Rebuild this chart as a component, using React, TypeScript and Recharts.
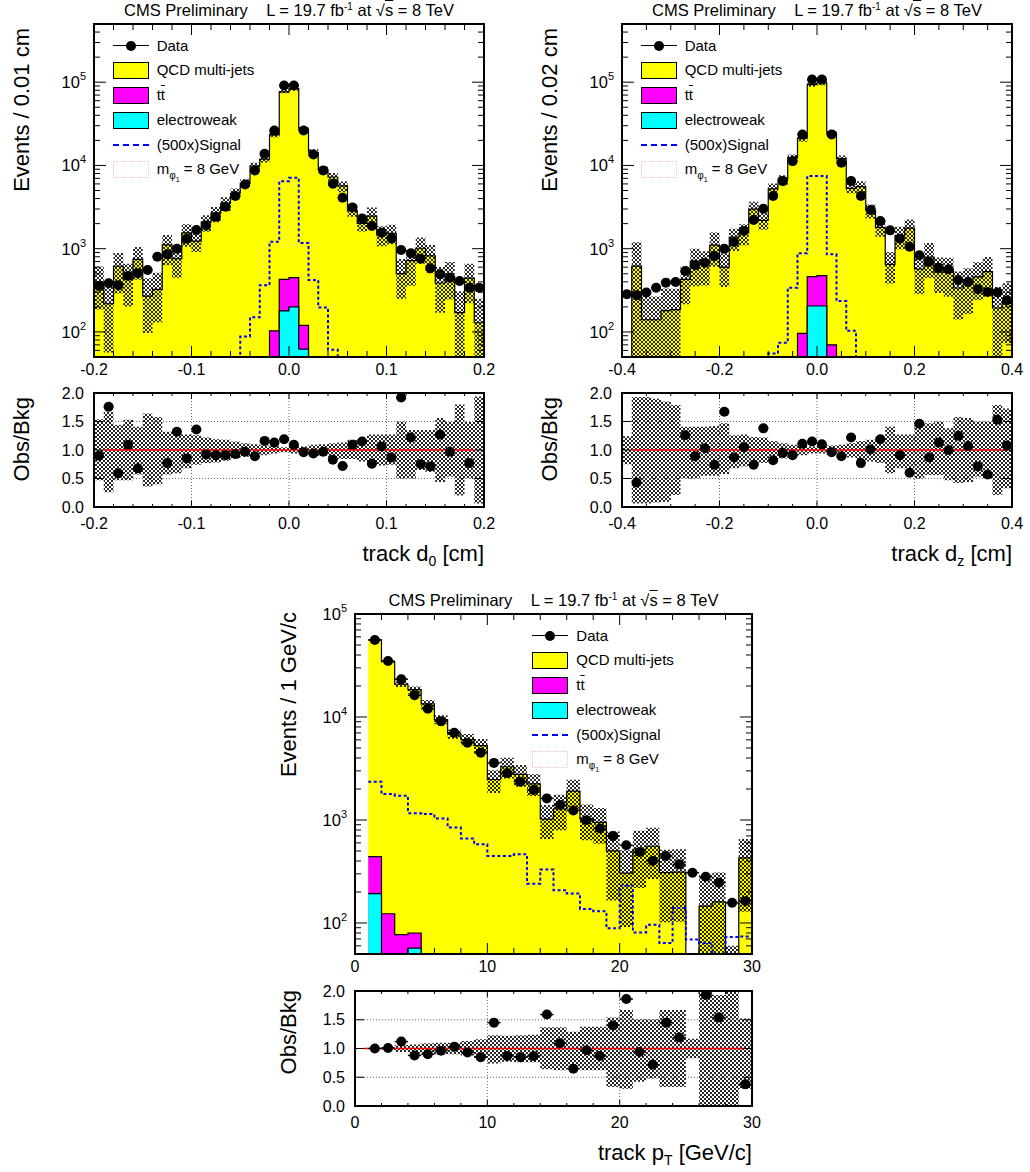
import React from "react"
import { ComposedChart, Area, Line, Scatter, XAxis, YAxis, ReferenceLine, ReferenceArea, ErrorBar } from "recharts"

const FONT = '"Liberation Sans", Arial, Helvetica, sans-serif'
const Y_MIN = 50

// ---------- track d0 [cm], 40 bins of 0.01 cm ----------
const d0Edges = [
  -0.2, -0.19, -0.18, -0.17, -0.16, -0.15, -0.14, -0.13, -0.12, -0.11, -0.1, -0.09, -0.08, -0.07, -0.06, -0.05, -0.04,
  -0.03, -0.02, -0.01, 0, 0.01, 0.02, 0.03, 0.04, 0.05, 0.06, 0.07, 0.08, 0.09, 0.1, 0.11, 0.12, 0.13, 0.14, 0.15, 0.16,
  0.17, 0.18, 0.19, 0.2,
]
const d0Data = [
  356, 384, 363, 470, 506, 555, 802, 855, 1000, 1318, 1675, 1905, 2421, 3192, 4285, 5916, 8710, 13800, 26300, 91200,
  91200, 26300, 13550, 8710, 6030, 4090, 3133, 2312, 1871, 1556, 1330, 964, 879, 759, 581, 492, 449, 409, 340, 340,
]
const d0Total = [
  396, 218, 615, 431, 744, 270, 325, 1110, 758, 1550, 1231, 2070, 2660, 3508, 4608, 6099, 9787, 11900, 23270, 76600,
  83700, 27400, 14400, 8980, 7265, 5680, 2874, 2010, 2462, 1468, 1529, 502, 720, 1012, 818, 387, 463, 171, 442, 129,
]
const d0Ttbar = [
  0, 0, 0, 0, 0, 0, 0, 0, 0, 0, 0, 0, 0, 0, 0, 0, 0, 0, 83, 249, 249, 58, 0, 0, 0, 0, 0, 0, 0, 0, 0, 0, 0, 0, 0, 0, 0,
  0, 0, 0,
]
const d0Ewk = [
  0, 0, 0, 0, 0, 0, 0, 0, 0, 0, 0, 0, 0, 0, 0, 0, 0, 0, 20, 179, 200, 62, 0, 0, 0, 0, 0, 0, 0, 0, 0, 0, 0, 0, 0, 0, 0,
  0, 0, 0,
]
const d0Signal = [
  0, 0, 0, 0, 0, 0, 0, 0, 0, 0, 0, 0, 0, 0, 0, 88, 150, 365, 1210, 6480, 7110, 1170, 420, 196, 61, 0, 0, 0, 0, 0, 0, 0,
  0, 0, 0, 0, 0, 0, 0, 0,
]
const d0Ratio = [
  0.9, 1.76, 0.59, 1.09, 0.68, null, null, 0.77, 1.32, 0.85, 1.36, 0.92, 0.91, 0.91, 0.93, 0.97, 0.89, 1.16, 1.13, 1.19,
  1.09, 0.96, 0.94, 0.97, 0.83, 0.72, 1.09, 1.15, 0.76, 1.06, 0.87, 1.92, 1.22, 0.75, 0.71, 1.27, 0.97, null, 0.77, null,
]
const d0BandLo = [
  0.47, 0.26, 0.47, 0.47, 0.57, 0.36, 0.4, 0.57, 0.59, 0.68, 0.74, 0.77, 0.78, 0.81, 0.85, 0.88, 0.91, 0.91, 0.94, 0.96,
  0.94, 0.92, 0.9, 0.9, 0.87, 0.84, 0.84, 0.8, 0.78, 0.73, 0.74, 0.5, 0.5, 0.65, 0.62, 0.44, 0.53, 0.2, 0.5, 0.06,
]
const d0BandHi = [
  1.54, 1.67, 1.44, 1.53, 1.41, 1.64, 1.58, 1.32, 1.32, 1.27, 1.26, 1.22, 1.19, 1.18, 1.15, 1.12, 1.1, 1.08, 1.06, 1.05,
  1.06, 1.06, 1.09, 1.1, 1.12, 1.13, 1.18, 1.18, 1.27, 1.27, 1.27, 1.5, 1.35, 1.35, 1.35, 1.56, 1.49, 1.8, 1.49, 1.94,
]
const d0XMajor = [-0.2, -0.1, 0, 0.1, 0.2]

// ---------- track dz [cm], 40 bins of 0.02 cm ----------
const dzEdges = [
  -0.4, -0.38, -0.36, -0.34, -0.32, -0.3, -0.28, -0.26, -0.24, -0.22, -0.2, -0.18, -0.16, -0.14, -0.12, -0.1, -0.08,
  -0.06, -0.04, -0.02, 0, 0.02, 0.04, 0.06, 0.08, 0.1, 0.12, 0.14, 0.16, 0.18, 0.2, 0.22, 0.24, 0.26, 0.28, 0.3, 0.32,
  0.34, 0.36, 0.38, 0.4,
]
const dzData = [
  283, 275, 297, 340, 391, 398, 540, 631, 679, 817, 1000, 1202, 1629, 2208, 3020, 4285, 6486, 11270, 23550, 107600,
  107600, 23550, 10770, 6486, 4285, 2911, 2148, 1660, 1318, 1057, 832, 692, 592, 565, 421, 398, 325, 302, 297, 240,
]
const dzTotal = [
  0, 619, 140, 140, 180, 185, 429, 709, 659, 1104, 599, 1382, 1551, 2984, 2188, 5226, 6827, 12385, 21216, 93565, 97818,
  24531, 12101, 5316, 5565, 2882, 1805, 649, 1448, 1762, 570, 795, 524, 565, 337, 372, 458, 530, 194, 222,
]
const dzTtbar = [
  0, 0, 0, 0, 0, 0, 0, 0, 0, 0, 0, 0, 0, 0, 0, 0, 0, 0, 96, 256, 269, 70, 0, 0, 0, 0, 0, 0, 0, 0, 0, 0, 0, 0, 0, 0, 0,
  0, 0, 0,
]
const dzEwk = [
  0, 0, 0, 0, 0, 0, 0, 0, 0, 0, 0, 0, 0, 0, 0, 0, 0, 0, 0, 205, 205, 0, 0, 0, 0, 0, 0, 0, 0, 0, 0, 0, 0, 0, 0, 0, 0, 0,
  0, 0,
]
const dzSignal = [
  0, 0, 0, 0, 0, 0, 0, 0, 0, 0, 0, 0, 0, 0, 0, 55, 74, 340, 880, 7450, 7450, 855, 235, 103, 0, 0, 0, 0, 0, 0, 0, 0, 0,
  0, 0, 0, 0, 0, 0, 0,
]
const dzRatio = [
  null, 0.43, null, null, null, null, 1.26, 0.89, 1.03, 0.74, 1.67, 0.87, 1.05, 0.74, 1.38, 0.82, 0.95, 0.91, 1.11, 1.15,
  1.1, 0.96, 0.89, 1.22, 0.77, 1.01, 1.19, null, 0.91, 0.6, 1.46, 0.87, 1.13, 1.0, 1.25, 1.07, 0.71, 0.57, 1.53, 1.08,
]
const dzBandLo = [
  0.75, 0.06, 0.06, 0.08, 0.09, 0.21, 0.5, 0.5, 0.55, 0.55, 0.58, 0.68, 0.71, 0.74, 0.77, 0.82, 0.85, 0.9, 0.91, 0.94,
  0.94, 0.91, 0.9, 0.87, 0.82, 0.8, 0.77, 0.59, 0.68, 0.65, 0.5, 0.56, 0.56, 0.47, 0.42, 0.44, 0.53, 0.5, 0.21, 0.33,
]
const dzBandHi = [
  1.24, 1.93, 1.93, 1.9, 1.85, 1.79, 1.41, 1.41, 1.41, 1.42, 1.47, 1.26, 1.27, 1.23, 1.22, 1.16, 1.12, 1.09, 1.08, 1.06,
  1.06, 1.08, 1.09, 1.12, 1.16, 1.18, 1.23, 1.41, 1.27, 1.27, 1.47, 1.47, 1.5, 1.38, 1.58, 1.56, 1.5, 1.5, 1.79, 1.73,
]
const dzXMajor = [-0.4, -0.2, 0, 0.2, 0.4]

// ---------- track pT [GeV/c], 29 bins of 1 GeV/c ----------
const ptEdges = [1, 2, 3, 4, 5, 6, 7, 8, 9, 10, 11, 12, 13, 14, 15, 16, 17, 18, 19, 20, 21, 22, 23, 24, 25, 26, 27, 28, 29, 30]
const ptData = [
  55980, 34910, 23290, 16250, 12050, 9070, 7040, 5620, 4490, 3585, 2862, 2357, 1954, 1621, 1396, 1238, 996, 826, 701,
  568, 489, 400, 447, 371, 308, 281, 246, 157, 163,
]
const ptTotal = [
  55980, 34560, 20800, 18470, 13390, 9450, 6835, 6043, 5282, 2472, 3290, 2773, 2246, 1019, 1281, 1905, 1027, 949, 501,
  305, 520, 556, 308, 312, 0, 146, 160, 30, 429,
]
const ptTtbar = [248, 123, 77, 23, 0, 0, 0, 0, 0, 0, 0, 0, 0, 0, 0, 0, 0, 0, 0, 0, 0, 0, 0, 0, 0, 0, 0, 0, 0]
const ptEwk = [193, 0, 0, 57, 0, 0, 0, 0, 0, 0, 0, 0, 0, 0, 0, 0, 0, 0, 0, 0, 0, 0, 0, 0, 0, 0, 0, 0, 0]
const ptSignal = [
  2355, 1786, 1722, 1166, 1141, 1035, 846, 661, 581, 447, 447, 464, 240, 331, 208, 193, 137, 130, 89, 231, 81, 96, 64,
  140, 69, 64, 30, 73, 74,
]
const ptRatio = [
  1.0, 1.01, 1.12, 0.88, 0.9, 0.96, 1.03, 0.93, 0.85, 1.45, 0.87, 0.85, 0.87, 1.59, 1.09, 0.65, 0.97, 0.87, 1.4, 1.86,
  0.94, 0.72, 1.45, 1.19, null, 1.93, 1.54, null, 0.38,
]
const ptBandLo = [
  0.99, 0.98, 0.94, 0.91, 0.91, 0.9, 0.9, 0.88, 0.85, 0.74, 0.77, 0.76, 0.76, 0.64, 0.62, 0.68, 0.62, 0.62, 0.33, 0.3,
  0.42, 0.48, 0.33, 0.33, 0.83, 0.01, 0.01, 0.01, 0.3,
]
const ptBandHi = [
  1.01, 1.02, 1.06, 1.07, 1.09, 1.1, 1.1, 1.13, 1.16, 1.23, 1.22, 1.23, 1.24, 1.37, 1.37, 1.29, 1.38, 1.38, 1.54, 1.67,
  1.51, 1.51, 1.67, 1.67, 1.17, 2.0, 1.93, 2.0, 1.52,
]
const ptXMajor = [0, 10, 20, 30]

const ratioTicks = [0, 0.5, 1, 1.5, 2]
const ratioGrid = [0.5, 1, 1.5]

type Cfg = {
  id: string
  edges: number[]
  xDomain: [number, number]
  xMajor: number[]
  xMinorStep: number
  xFmt: (v: number) => string
  data: number[]
  total: number[]
  ttbar: number[]
  ewk: number[]
  signal: number[]
  ratio: (number | null)[]
  bandLo: number[]
  bandHi: number[]
  yMax: number
  unitLine: [number, number]
  left: number
  width: number
  mainTop: number
  mainH: number
  ratioTop: number
  ratioH: number
}

const steps = (a: number, b: number, s: number) => {
  const out: number[] = []
  for (let v = a; v <= b + s * 1e-6; v += s) out.push(Math.round(v / s) * s)
  return out
}
const logTicks = (lo: number, hi: number) => {
  const out: number[] = []
  for (let e = 1; e <= 6; e++) for (let k = 1; k <= 9; k++) {
    const v = k * Math.pow(10, e)
    if (v >= lo && v <= hi) out.push(v)
  }
  return out
}
const isIn = (v: number, arr: number[]) => arr.some((m) => Math.abs(m - v) < 1e-7)

// histogram as step rows: one row per bin edge, last edge repeats the last bin
function stepRows(edges: number[], cols: Record<string, any[]>) {
  return edges.map((x, i) => {
    const j = Math.min(i, edges.length - 2)
    const row: any = { x }
    for (const k in cols) row[k] = cols[k][j]
    return row
  })
}

function xTick(major: number[], span: number, lenMaj: number, lenMin: number, dy: number, fmt: (v: number) => string) {
  return (p: any) => {
    const v = p.payload.value
    const maj = isIn(v, major)
    const len = maj ? lenMaj : lenMin
    return (
      <g>
        <line x1={p.x} x2={p.x} y1={p.y} y2={p.y - len} stroke="#000" strokeWidth={1} />
        <line x1={p.x} x2={p.x} y1={p.y - span} y2={p.y - span + len} stroke="#000" strokeWidth={1} />
        {maj && (
          <text x={p.x} y={p.y + dy} textAnchor="middle" dominantBaseline="central" fontSize={16} fontFamily={FONT} fill="#000">
            {fmt(v)}
          </text>
        )}
      </g>
    )
  }
}

function logYTick(span: number) {
  return (p: any) => {
    const v = p.payload.value
    const e = Math.log10(v)
    const maj = Math.abs(e - Math.round(e)) < 1e-6
    const len = maj ? 12 : 6
    return (
      <g>
        <line x1={p.x} x2={p.x + len} y1={p.y} y2={p.y} stroke="#000" strokeWidth={1} />
        <line x1={p.x + span} x2={p.x + span - len} y1={p.y} y2={p.y} stroke="#000" strokeWidth={1} />
        {maj && (
          <text x={p.x - 8} y={p.y + 6} textAnchor="end" fontSize={16.5} fontFamily={FONT} fill="#000">
            10
            <tspan dy={-8} fontSize={11}>
              {Math.round(e)}
            </tspan>
          </text>
        )}
      </g>
    )
  }
}

function ratioYTick(span: number) {
  return (p: any) => {
    const v = p.payload.value
    return (
      <g>
        <line x1={p.x} x2={p.x + 9} y1={p.y} y2={p.y} stroke="#000" strokeWidth={1} />
        <line x1={p.x + span} x2={p.x + span - 9} y1={p.y} y2={p.y} stroke="#000" strokeWidth={1} />
        <text x={p.x - 10} y={p.y} textAnchor="end" dominantBaseline="central" fontSize={16} fontFamily={FONT} fill="#000">
          {v.toFixed(1)}
        </text>
      </g>
    )
  }
}

const PAD_L = 90
const PAD_T = 12
const PAD_R = 16
const PAD_B = 30

const hatch = (id: string) => (
  <defs>
    <pattern id={id} width={4} height={4} patternUnits="userSpaceOnUse">
      <path d="M0,0 L4,4 M4,0 L0,4" stroke="#000" strokeWidth={0.85} />
    </pattern>
  </defs>
)

const dot = (p: any) => <circle cx={p.cx} cy={p.cy} r={5} fill="#000" />

function MainPlot({ c }: { c: Cfg }) {
  const clamp = (v: number) => Math.max(Y_MIN, v)
  const rows = stepRows(c.edges, {
    qcd: c.total.map((t) => [Y_MIN, clamp(t)]),
    stack: c.ttbar.map((t, i) => [Y_MIN, clamp(t + c.ewk[i])]),
    ew: c.ewk.map((e) => [Y_MIN, clamp(e)]),
    band: c.total.map((t, i) => [clamp(t * c.bandLo[i]), clamp(t * c.bandHi[i])]),
    sig: c.signal.map(clamp),
  })
  const pts = c.data.map((y, i) => ({
    x: (c.edges[i] + c.edges[i + 1]) / 2,
    y,
    xe: (c.edges[i + 1] - c.edges[i]) / 2,
  }))
  const xTicks = steps(c.xDomain[0], c.xDomain[1], c.xMinorStep)
  const hid = "hatch-main-" + c.id
  return (
    <div style={{ position: "absolute", left: c.left - PAD_L, top: c.mainTop - PAD_T }}>
      <ComposedChart
        width={c.width + PAD_L + PAD_R}
        height={c.mainH + PAD_T + PAD_B}
        data={rows}
        margin={{ top: PAD_T, right: PAD_R, bottom: PAD_B - 1, left: PAD_L - 1 }}
      >
        {hatch(hid)}
        <XAxis
          dataKey="x"
          type="number"
          domain={c.xDomain}
          allowDataOverflow
          ticks={xTicks}
          interval={0}
          height={1}
          tickSize={0}
          tickMargin={0}
          tickLine={false}
          axisLine={{ stroke: "#000", strokeWidth: 2 }}
          tick={xTick(c.xMajor, c.mainH, 11, 6, 12, c.xFmt)}
        />
        <YAxis
          type="number"
          scale="log"
          domain={[Y_MIN, c.yMax]}
          allowDataOverflow
          ticks={logTicks(Y_MIN, c.yMax)}
          interval={0}
          width={1}
          tickSize={0}
          tickMargin={0}
          tickLine={false}
          axisLine={{ stroke: "#000", strokeWidth: 2 }}
          tick={logYTick(c.width)}
        />
        <Area dataKey="qcd" type="stepAfter" fill="#ffff00" fillOpacity={1} stroke="#000" strokeWidth={1.2} isAnimationActive={false} />
        <Area dataKey="stack" type="stepAfter" fill="#ff00ff" fillOpacity={1} stroke="#000" strokeWidth={1.2} isAnimationActive={false} />
        <Area dataKey="ew" type="stepAfter" fill="#00ffff" fillOpacity={1} stroke="#000" strokeWidth={1.2} isAnimationActive={false} />
        <Area dataKey="band" type="stepAfter" fill={`url(#${hid})`} fillOpacity={1} stroke="none" isAnimationActive={false} />
        <Line dataKey="sig" type="stepAfter" stroke="#0000ff" strokeWidth={2} strokeDasharray="3 2.5" dot={false} isAnimationActive={false} />
        <Scatter data={pts} dataKey="y" fill="#000" shape={dot} isAnimationActive={false}>
          <ErrorBar dataKey="xe" direction="x" width={0} stroke="#000" strokeWidth={1.5} />
        </Scatter>
        <ReferenceArea
          x1={c.xDomain[0]}
          x2={c.xDomain[1]}
          y1={Y_MIN}
          y2={c.yMax}
          fill="none"
          stroke="#000"
          strokeWidth={2}
          ifOverflow="visible"
        />
      </ComposedChart>
    </div>
  )
}

function RatioPlot({ c }: { c: Cfg }) {
  const rows = stepRows(c.edges, { band: c.bandLo.map((lo, i) => [lo, c.bandHi[i]]) })
  const pts = c.ratio
    .map((y, i) => ({ x: (c.edges[i] + c.edges[i + 1]) / 2, y, xe: (c.edges[i + 1] - c.edges[i]) / 2 }))
    .filter((p) => p.y !== null)
  const xTicks = steps(c.xDomain[0], c.xDomain[1], c.xMinorStep)
  const hid = "hatch-ratio-" + c.id
  const vGrid = c.xMajor.slice(1, -1)
  return (
    <div style={{ position: "absolute", left: c.left - PAD_L, top: c.ratioTop - PAD_T }}>
      <ComposedChart
        width={c.width + PAD_L + PAD_R}
        height={c.ratioH + PAD_T + PAD_B}
        data={rows}
        margin={{ top: PAD_T, right: PAD_R, bottom: PAD_B - 1, left: PAD_L - 1 }}
      >
        {hatch(hid)}
        <XAxis
          dataKey="x"
          type="number"
          domain={c.xDomain}
          allowDataOverflow
          ticks={xTicks}
          interval={0}
          height={1}
          tickSize={0}
          tickMargin={0}
          tickLine={false}
          axisLine={{ stroke: "#000", strokeWidth: 2 }}
          tick={xTick(c.xMajor, c.ratioH, 6, 3, 16, c.xFmt)}
        />
        <YAxis
          type="number"
          domain={[0, 2]}
          allowDataOverflow
          ticks={ratioTicks}
          interval={0}
          width={1}
          tickSize={0}
          tickMargin={0}
          tickLine={false}
          axisLine={{ stroke: "#000", strokeWidth: 2 }}
          tick={ratioYTick(c.width)}
        />
        {ratioGrid.map((g) => (
          <ReferenceLine key={"h" + g} y={g} stroke="#666" strokeWidth={1} strokeDasharray="1 2" />
        ))}
        {vGrid.map((g) => (
          <ReferenceLine key={"v" + g} x={g} stroke="#666" strokeWidth={1} strokeDasharray="1 2" />
        ))}
        <Area dataKey="band" type="stepAfter" fill={`url(#${hid})`} fillOpacity={1} stroke="none" isAnimationActive={false} />
        <ReferenceLine
          segment={[
            { x: c.unitLine[0], y: 1 },
            { x: c.unitLine[1], y: 1 },
          ]}
          stroke="#ff0000"
          strokeWidth={1.5}
        />
        <Scatter data={pts} dataKey="y" fill="#000" shape={dot} isAnimationActive={false}>
          <ErrorBar dataKey="xe" direction="x" width={0} stroke="#000" strokeWidth={1.5} />
        </Scatter>
        <ReferenceArea
          x1={c.xDomain[0]}
          x2={c.xDomain[1]}
          y1={0}
          y2={2}
          fill="none"
          stroke="#000"
          strokeWidth={2}
          ifOverflow="visible"
        />
      </ComposedChart>
    </div>
  )
}

function Title({ cx, top }: { cx: number; top: number }) {
  return (
    <div
      style={{
        position: "absolute",
        left: cx - 220,
        width: 440,
        top,
        height: 18,
        lineHeight: "18px",
        textAlign: "center",
        fontSize: 16.5,
        whiteSpace: "nowrap",
      }}
    >
      CMS Preliminary&nbsp;&nbsp;&nbsp; L = 19.7 fb
      <span style={{ fontSize: 10, position: "relative", top: -6 }}>-1</span> at √
      <span style={{ textDecoration: "overline" }}>s</span> = 8 TeV
    </div>
  )
}

function LegendBlock({ left, top }: { left: number; top: number }) {
  const rowY = [0, 24.7, 49.7, 74.3, 99, 123.7]
  const txt = (i: number, content: React.ReactNode) => (
    <div
      style={{
        position: "absolute",
        left: left + 44,
        top: top + rowY[i] - 10,
        height: 20,
        lineHeight: "20px",
        fontSize: 15,
        whiteSpace: "nowrap",
      }}
    >
      {content}
    </div>
  )
  const box = (i: number, bg: string, border: string) => (
    <div
      style={{
        position: "absolute",
        left,
        top: top + rowY[i] - 8.5,
        width: 36,
        height: 17,
        background: bg,
        border,
        boxSizing: "border-box",
      }}
    />
  )
  return (
    <>
      <div style={{ position: "absolute", left, top: top - 0.75, width: 36, height: 1.5, background: "#000" }} />
      <div
        style={{ position: "absolute", left: left + 18 - 5, top: top - 5, width: 10, height: 10, borderRadius: "50%", background: "#000" }}
      />
      {txt(0, "Data")}
      {box(1, "#ffff00", "1.5px solid #000")}
      {txt(1, "QCD multi-jets")}
      {box(2, "#ff00ff", "1.5px solid #000")}
      {txt(2, <span>t<span style={{ textDecoration: "overline" }}>t</span></span>)}
      {box(3, "#00ffff", "1.5px solid #000")}
      {txt(3, "electroweak")}
      <div style={{ position: "absolute", left, top: top + rowY[4] - 1, width: 36, height: 0, borderTop: "2px dashed #0000ff" }} />
      {txt(4, "(500x)Signal")}
      {box(5, "#fff", "1px dotted #f5c4c4")}
      {txt(
        5,
        <span>
          m
          <span style={{ fontSize: 10, position: "relative", top: 5 }}>
            φ<span style={{ fontSize: 7, position: "relative", top: 3 }}>1</span>
          </span>{" "}
          = 8 GeV
        </span>,
      )}
    </>
  )
}

const fmt1 = (v: number) => v.toFixed(1)
const fmt0 = (v: number) => String(Math.round(v))

const panels: Cfg[] = [
  {
    id: "d0", edges: d0Edges, xDomain: [-0.2, 0.2], xMajor: d0XMajor, xMinorStep: 0.02, xFmt: fmt1,
    data: d0Data, total: d0Total, ttbar: d0Ttbar, ewk: d0Ewk, signal: d0Signal,
    ratio: d0Ratio, bandLo: d0BandLo, bandHi: d0BandHi, yMax: 500000, unitLine: [-0.19, 0.19],
    left: 94, width: 390, mainTop: 24, mainH: 333, ratioTop: 393, ratioH: 114,
  },
  {
    id: "dz", edges: dzEdges, xDomain: [-0.4, 0.4], xMajor: dzXMajor, xMinorStep: 0.05, xFmt: fmt1,
    data: dzData, total: dzTotal, ttbar: dzTtbar, ewk: dzEwk, signal: dzSignal,
    ratio: dzRatio, bandLo: dzBandLo, bandHi: dzBandHi, yMax: 500000, unitLine: [-0.38, 0.39],
    left: 622, width: 390, mainTop: 24, mainH: 333, ratioTop: 393, ratioH: 114,
  },
  {
    id: "pt", edges: ptEdges, xDomain: [0, 30], xMajor: ptXMajor, xMinorStep: 2, xFmt: fmt0,
    data: ptData, total: ptTotal, ttbar: ptTtbar, ewk: ptEwk, signal: ptSignal,
    ratio: ptRatio, bandLo: ptBandLo, bandHi: ptBandHi, yMax: 100000, unitLine: [0.6, 29.4],
    left: 355, width: 397, mainTop: 614, mainH: 340, ratioTop: 991, ratioH: 115,
  },
]

export default function App() {
  return (
    <div
      style={{
        position: "absolute",
        left: 0,
        top: 0,
        width: 1030,
        height: 1172,
        background: "#fff",
        fontFamily: FONT,
        color: "#000",
        overflow: "hidden",
      }}
    >
      {panels.map((c) => (
        <React.Fragment key={c.id}>
          <MainPlot c={c} />
          <RatioPlot c={c} />
          <Title cx={c.left + c.width / 2} top={c.mainTop - 23} />
          <LegendBlock left={c.left + (c.id === "pt" ? 177.3 : 18.7)} top={c.mainTop + 21.7} />
        </React.Fragment>
      ))}
      <svg width={1030} height={1172} style={{ position: "absolute", left: 0, top: 0, pointerEvents: "none" }}>
        <g fontFamily={FONT} fontSize={22} fill="#000">
          <text transform="translate(21,28) rotate(-90)" textAnchor="end" dominantBaseline="central">
            Events / 0.01 cm
          </text>
          <text transform="translate(21,397) rotate(-90)" textAnchor="end" dominantBaseline="central">
            Obs/Bkg
          </text>
          <text transform="translate(549,28) rotate(-90)" textAnchor="end" dominantBaseline="central">
            Events / 0.02 cm
          </text>
          <text transform="translate(549,397) rotate(-90)" textAnchor="end" dominantBaseline="central">
            Obs/Bkg
          </text>
          <text transform="translate(288,612) rotate(-90)" textAnchor="end" dominantBaseline="central">
            Events / 1 GeV/c
          </text>
          <text transform="translate(288,990) rotate(-90)" textAnchor="end" dominantBaseline="central">
            Obs/Bkg
          </text>
          <text x={484} y={561} textAnchor="end">
            track d<tspan dy={5} fontSize={14}>0</tspan>
            <tspan dy={-5}> [cm]</tspan>
          </text>
          <text x={1012} y={561} textAnchor="end">
            track d<tspan dy={5} fontSize={14}>z</tspan>
            <tspan dy={-5}> [cm]</tspan>
          </text>
          <text x={752} y={1160} textAnchor="end">
            track p<tspan dy={5} fontSize={14}>T</tspan>
            <tspan dy={-5}> [GeV/c]</tspan>
          </text>
        </g>
      </svg>
    </div>
  )
}
